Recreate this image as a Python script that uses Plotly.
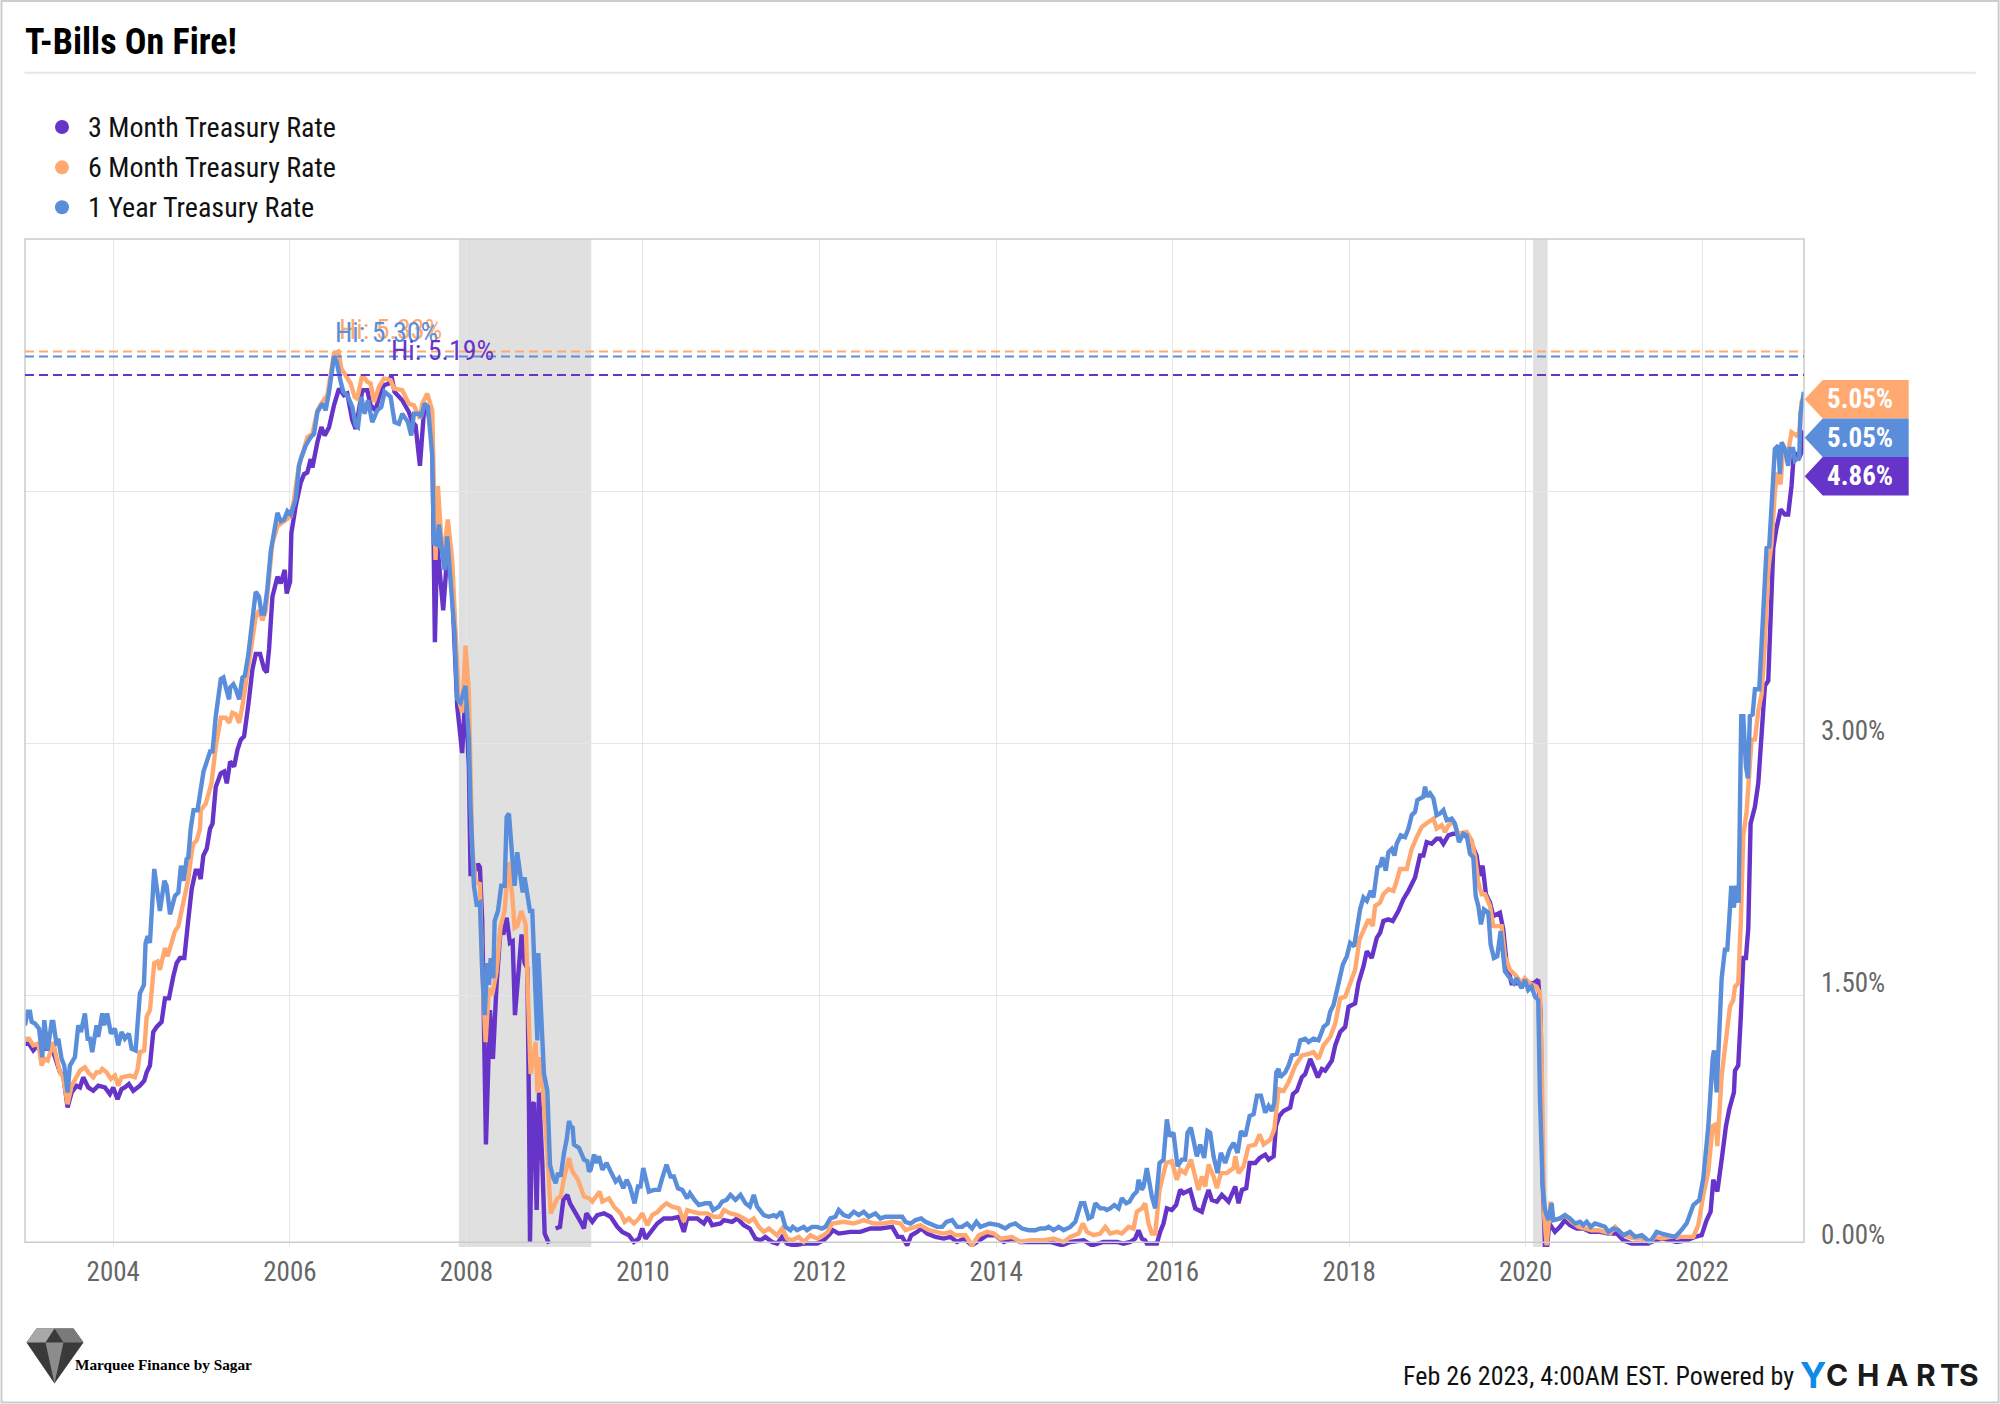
import pandas as pd
import plotly.graph_objects as go

# ---------- data (decimal years, percent) ----------
SERIES_NAMES = ["3 Month Treasury Rate", "6 Month Treasury Rate", "1 Year Treasury Rate"]
SERIES_COLORS = ["#6634C8", "#FFA970", "#5A8EDB"]
HIGHS = [5.19, 5.33, 5.30]
HIGH_LABELS = ["Hi: 5.19%", "Hi: 5.33%", "Hi: 5.30%"]
LAST_LABELS = ["4.86%", "5.05%", "5.05%"]
Y_TICKS = [0, 1.5, 3, 4.5]
Y_TICK_LABELS = ["0.00%", "1.50%", "3.00%", ""]
RECESSIONS = [("2007-12-01", "2009-06-01"), ("2020-02-01", "2020-04-01")]

T1Y_YEARS = [2003.000,2003.030,2003.057,2003.075,2003.113,2003.159,2003.196,2003.219,2003.257,2003.302,2003.321,2003.359,2003.377,2003.415,2003.445,2003.483,2003.509,2003.566,2003.604,2003.634,2003.679,2003.710,2003.736,2003.762,2003.811,2003.830,2003.876,2003.898,2003.932,2003.974,2004.019,2004.057,2004.094,2004.132,2004.177,2004.208,2004.253,2004.302,2004.347,2004.366,2004.389,2004.415,2004.464,2004.528,2004.578,2004.604,2004.642,2004.679,2004.698,2004.736,2004.766,2004.796,2004.830,2004.849,2004.876,
2004.908,2004.953,2005.021,2005.059,2005.096,2005.123,2005.160,2005.217,2005.247,2005.274,2005.311,2005.323,2005.360,2005.387,2005.425,2005.462,2005.489,2005.527,2005.576,2005.613,2005.651,2005.678,2005.708,2005.745,2005.783,2005.821,2005.859,2005.896,2005.934,2005.972,2006.010,2006.066,2006.104,2006.130,2006.179,2006.236,2006.274,2006.312,2006.368,2006.406,2006.444,2006.500,2006.530,2006.576,2006.606,2006.651,2006.708,2006.746,2006.772,2006.810,2006.847,2006.885,2006.934,2006.991,2007.036,2007.074,2007.142,2007.187,2007.236,2007.274,2007.338,2007.376,2007.406,2007.463,2007.489,2007.527,2007.565,2007.614,2007.632,2007.670,2007.689,2007.727,2007.753,2007.783,2007.829,2007.866,2007.897,2007.934,2007.991,2008.029,
2008.048,2008.067,2008.086,2008.116,2008.154,2008.180,2008.207,2008.237,2008.256,2008.275,2008.305,2008.320,2008.358,2008.395,2008.433,2008.456,2008.482,2008.520,2008.546,2008.576,2008.607,2008.637,2008.659,2008.690,2008.720,2008.746,2008.784,2008.803,2008.814,2008.860,2008.878,2008.916,2008.946,2008.984,2009.010,2009.037,2009.067,2009.105,2009.135,2009.161,2009.180,2009.203,2009.218,2009.275,2009.331,2009.369,2009.388,
2009.407,2009.445,2009.475,2009.501,2009.539,2009.588,2009.633,2009.690,2009.728,2009.777,2009.815,2009.852,2009.905,2009.943,2009.973,2010.003,2010.030,2010.067,2010.124,2010.181,2010.218,2010.267,2010.313,2010.350,2010.396,2010.445,2010.501,2010.532,2010.584,2010.634,2010.709,2010.758,2010.796,2010.860,2010.898,2010.947,2010.992,2011.049,2011.105,2011.162,2011.211,2011.256,2011.294,2011.369,2011.426,2011.483,2011.513,2011.566,2011.615,2011.671,2011.698,2011.747,2011.822,2011.860,2011.917,2011.973,2012.030,2012.068,2012.124,2012.181,2012.219,2012.275,2012.332,2012.389,2012.445,2012.502,2012.558,2012.634,2012.690,2012.747,2012.823,2012.936,2012.973,2013.030,2013.087,2013.151,2013.200,2013.257,2013.332,2013.389,2013.438,2013.502,2013.558,2013.615,2013.671,2013.728,2013.777,2013.823,2013.879,2013.928,2014.030,2014.106,2014.155,2014.219,2014.294,2014.370,2014.445,2014.502,2014.559,2014.596,2014.653,2014.709,2014.766,2014.841,2014.898,2014.962,2015.000,2015.049,2015.087,2015.125,2015.181,
2015.226,2015.256,2015.294,2015.340,2015.389,2015.426,2015.475,2015.513,2015.558,2015.596,2015.615,2015.653,2015.672,2015.709,2015.740,2015.766,2015.804,2015.853,2015.898,2015.936,2015.966,2016.011,2016.057,2016.106,2016.143,2016.170,2016.208,2016.238,2016.275,2016.313,2016.358,2016.396,2016.426,2016.464,2016.509,2016.547,2016.596,2016.645,2016.691,2016.736,2016.774,2016.823,2016.872,2016.917,2016.955,2017.000,2017.049,2017.087,2017.125,2017.151,2017.174,2017.200,2017.219,2017.276,2017.313,2017.351,2017.408,2017.445,2017.502,2017.540,2017.596,2017.653,2017.710,2017.755,2017.785,2017.823,2017.860,2017.898,
2017.928,2017.973,2018.011,2018.056,2018.087,2018.124,2018.162,2018.200,2018.245,2018.275,2018.321,2018.351,2018.377,2018.415,2018.445,2018.483,2018.513,2018.539,2018.585,2018.634,2018.672,2018.709,2018.747,2018.773,2018.841,2018.860,2018.887,2018.917,2018.955,2018.992,2019.030,2019.068,2019.106,2019.162,2019.200,2019.245,2019.294,2019.332,2019.370,2019.407,2019.434,2019.464,2019.494,2019.528,2019.577,2019.604,2019.641,2019.679,2019.717,2019.766,2019.823,2019.868,2019.898,2019.955,2019.992,2020.030,2020.068,2020.106,2020.143,
2020.162,2020.193,2020.219,2020.257,2020.295,2020.313,2020.389,2020.445,2020.502,2020.559,2020.615,2020.653,2020.691,2020.736,2020.785,2020.842,2020.898,2020.936,2020.993,2021.049,2021.106,2021.181,2021.238,2021.314,2021.408,2021.446,2021.483,2021.540,2021.615,2021.691,2021.748,2021.823,
2021.899,2021.967,2022.012,2022.069,2022.118,2022.133,2022.163,2022.182,2022.220,2022.257,2022.284,2022.306,2022.329,2022.359,2022.382,2022.412,2022.442,2022.465,2022.495,2022.518,2022.540,2022.571,2022.597,2022.646,2022.691,2022.729,2022.759,2022.797,2022.823,2022.861,2022.880,2022.899,2022.937,2022.974,2022.993,2023.031,2023.050,2023.099,2023.114,2023.152]
T1Y_RATE = [1.32,1.40,1.40,1.34,1.33,1.30,1.13,1.35,1.17,1.34,1.34,1.20,1.24,1.12,1.08,0.92,1.08,1.13,1.32,1.28,1.39,1.24,1.24,1.16,1.32,1.25,1.39,1.32,1.39,1.27,1.30,1.20,1.28,1.24,1.27,1.18,1.17,1.51,1.56,1.81,1.85,1.81,2.25,2.00,2.18,2.15,1.98,2.04,2.09,2.11,2.27,2.18,2.31,2.32,2.49,
2.60,2.60,2.83,2.89,2.95,2.95,3.16,3.38,3.39,3.33,3.26,3.33,3.35,3.32,3.26,3.39,3.40,3.52,3.77,3.90,3.87,3.77,3.77,3.92,4.14,4.27,4.37,4.32,4.33,4.38,4.36,4.45,4.65,4.70,4.77,4.82,4.84,4.97,5.02,4.98,5.09,5.30,5.27,5.15,5.09,5.07,5.00,4.89,4.88,5.06,4.96,5.04,4.91,4.98,5.00,5.09,5.06,4.91,4.90,4.96,4.91,4.83,4.96,4.96,4.94,5.02,5.00,4.71,4.19,4.18,4.30,4.13,4.03,4.23,3.95,3.66,3.26,3.24,3.34,3.02,
2.62,2.37,2.15,2.04,2.05,1.64,1.38,1.69,1.56,1.72,1.60,1.94,2.00,2.15,2.15,2.56,2.58,2.32,2.15,2.35,2.22,2.11,2.20,2.10,2.00,2.00,1.35,1.23,1.75,1.18,1.03,0.93,0.49,0.41,0.38,0.44,0.42,0.56,0.64,0.75,0.72,0.71,0.61,0.59,0.52,0.51,0.45,
0.46,0.55,0.50,0.54,0.46,0.50,0.45,0.39,0.41,0.35,0.40,0.36,0.26,0.36,0.36,0.47,0.41,0.33,0.34,0.34,0.41,0.49,0.42,0.42,0.35,0.34,0.29,0.32,0.28,0.25,0.26,0.26,0.22,0.24,0.27,0.28,0.31,0.28,0.31,0.26,0.24,0.31,0.24,0.19,0.18,0.19,0.18,0.21,0.12,0.10,0.12,0.10,0.12,0.10,0.12,0.12,0.11,0.12,0.17,0.18,0.22,0.19,0.18,0.21,0.19,0.21,0.18,0.20,0.17,0.18,0.18,0.18,0.15,0.14,0.16,0.17,0.15,0.14,0.12,0.12,0.15,0.16,0.12,0.12,0.14,0.11,0.15,0.12,0.13,0.14,0.13,0.11,0.13,0.14,0.11,0.10,0.10,0.11,0.11,0.12,0.10,0.12,0.10,0.12,0.15,0.26,0.26,0.17,0.18,0.26,0.23,
0.23,0.22,0.23,0.25,0.23,0.29,0.26,0.27,0.31,0.33,0.40,0.34,0.36,0.47,0.36,0.30,0.23,0.50,0.52,0.76,0.66,0.68,0.48,0.52,0.52,0.68,0.71,0.62,0.54,0.61,0.53,0.69,0.68,0.54,0.44,0.56,0.50,0.58,0.62,0.56,0.69,0.66,0.78,0.79,0.90,0.90,0.80,0.84,0.81,0.86,1.04,1.06,1.01,1.04,1.08,1.14,1.15,1.23,1.24,1.22,1.24,1.23,1.31,1.33,1.40,1.44,1.53,1.61,
1.68,1.73,1.81,1.79,1.91,2.01,2.08,2.06,2.12,2.08,2.26,2.27,2.32,2.24,2.35,2.37,2.33,2.40,2.45,2.44,2.49,2.57,2.59,2.66,2.68,2.74,2.68,2.70,2.67,2.57,2.58,2.60,2.54,2.55,2.52,2.41,2.46,2.45,2.34,2.32,2.09,2.03,1.92,2.01,1.99,1.80,1.72,1.73,1.88,1.64,1.60,1.57,1.60,1.54,1.59,1.53,1.55,1.49,1.47,
0.90,0.36,0.22,0.16,0.26,0.16,0.17,0.19,0.17,0.14,0.15,0.13,0.15,0.12,0.14,0.13,0.12,0.09,0.11,0.10,0.07,0.09,0.06,0.07,0.03,0.06,0.09,0.08,0.07,0.06,0.09,0.14,
0.25,0.28,0.41,0.72,1.12,1.17,0.92,1.15,1.60,1.77,1.77,1.95,2.15,2.02,2.15,2.05,3.16,3.16,2.86,2.79,3.16,3.17,3.32,3.32,3.83,4.16,4.17,4.53,4.75,4.77,4.60,4.79,4.75,4.65,4.75,4.75,4.68,4.70,4.96,5.09]

T6M_YEARS = [2003.000,2003.045,2003.094,2003.151,2003.189,2003.219,2003.257,2003.321,2003.359,2003.396,2003.434,2003.483,2003.528,2003.585,2003.623,2003.679,2003.717,2003.774,2003.811,2003.849,2003.876,2003.925,2003.974,2004.019,2004.057,2004.094,2004.151,2004.189,2004.245,2004.276,2004.302,2004.351,2004.378,2004.415,2004.464,2004.502,2004.528,2004.585,2004.615,2004.653,2004.698,2004.736,2004.774,2004.811,2004.849,2004.887,2004.906,2004.944,2004.981,
2004.991,2005.047,2005.111,2005.160,2005.217,2005.274,2005.311,2005.349,2005.387,2005.425,2005.462,2005.511,2005.557,2005.613,2005.651,2005.689,2005.727,2005.764,2005.802,2005.859,2005.915,2006.010,2006.047,2006.104,2006.161,2006.198,2006.255,2006.312,2006.368,2006.425,2006.500,2006.549,2006.583,2006.632,2006.689,2006.734,2006.764,2006.821,2006.878,2006.915,2006.953,2007.010,2007.066,2007.142,2007.180,2007.274,2007.349,2007.406,2007.474,2007.500,2007.557,2007.614,2007.632,2007.651,2007.678,2007.727,2007.753,2007.791,2007.840,2007.878,2007.915,2007.953,2007.991,2008.029,
2008.067,2008.105,2008.154,2008.180,2008.218,2008.256,2008.293,2008.342,2008.388,2008.433,2008.475,2008.520,2008.546,2008.576,2008.622,2008.671,2008.697,2008.727,2008.784,2008.803,2008.841,2008.878,2008.916,2008.954,2008.992,2009.029,2009.067,2009.105,2009.161,2009.199,2009.226,2009.263,2009.331,2009.388,2009.426,2009.482,2009.509,2009.539,2009.614,2009.671,2009.746,2009.792,2009.841,2009.897,2009.954,2009.992,2010.048,2010.105,2010.169,2010.218,2010.267,2010.331,2010.407,2010.463,2010.501,2010.558,2010.633,2010.728,2010.803,2010.879,
2010.917,2010.992,2011.068,2011.143,2011.200,2011.256,2011.313,2011.369,2011.426,2011.520,2011.577,2011.634,2011.690,2011.766,2011.822,2011.898,2011.973,2012.049,2012.094,2012.143,2012.275,2012.389,2012.502,2012.615,2012.728,2012.823,2012.917,2012.973,2013.030,2013.143,2013.238,2013.313,2013.408,2013.483,2013.540,2013.653,2013.728,2013.804,2013.898,2013.974,2014.049,2014.181,2014.275,2014.389,2014.540,2014.653,2014.766,2014.841,2014.936,2014.985,2015.030,2015.106,2015.181,
2015.238,2015.294,2015.370,2015.426,2015.502,2015.558,2015.596,2015.653,2015.690,2015.728,2015.766,2015.804,2015.853,2015.898,2015.928,2015.992,2016.049,2016.087,2016.143,2016.208,2016.257,2016.294,2016.332,2016.370,2016.408,2016.464,2016.502,2016.547,2016.615,2016.691,2016.710,2016.747,2016.804,2016.860,2016.936,2016.985,2017.030,2017.106,2017.151,2017.181,2017.200,2017.257,2017.313,2017.389,2017.464,2017.540,2017.596,2017.653,2017.710,2017.785,2017.842,2017.898,2017.955,2018.012,2018.068,
2018.117,2018.170,2018.219,2018.268,2018.294,2018.351,2018.388,2018.445,2018.502,2018.539,2018.577,2018.653,2018.709,2018.766,2018.823,2018.898,2018.955,2018.992,2019.049,2019.087,2019.124,2019.181,2019.238,2019.332,2019.389,2019.426,2019.464,2019.502,2019.540,2019.596,2019.634,2019.691,2019.728,2019.766,2019.823,2019.898,2019.955,2019.992,2020.049,2020.124,2020.162,
2020.185,2020.193,2020.208,2020.238,2020.257,2020.283,2020.313,2020.389,2020.445,2020.521,2020.596,2020.672,2020.747,2020.823,2020.898,2020.955,2021.012,2021.087,2021.163,2021.238,2021.314,2021.408,2021.464,2021.540,2021.634,2021.748,2021.861,
2021.899,2021.955,2022.012,2022.069,2022.118,2022.155,2022.171,2022.220,2022.269,2022.314,2022.352,2022.371,2022.408,2022.438,2022.465,2022.503,2022.533,2022.559,2022.597,2022.635,2022.673,2022.710,2022.748,2022.786,2022.823,2022.850,2022.888,2022.918,2022.974,2023.012,2023.069,2023.099,2023.125,2023.148]
T6M_RATE = [1.24,1.24,1.20,1.21,1.08,1.12,1.11,1.22,1.12,1.04,1.01,0.85,0.96,1.02,1.05,1.07,1.04,1.01,1.04,1.04,1.06,1.04,1.00,1.02,0.96,1.01,1.02,1.02,1.01,1.06,1.16,1.17,1.37,1.41,1.69,1.70,1.65,1.78,1.73,1.79,1.88,1.91,2.01,2.09,2.19,2.35,2.40,2.42,2.49,
2.60,2.64,2.76,2.98,3.15,3.15,3.12,3.18,3.17,3.12,3.22,3.38,3.56,3.75,3.79,3.73,3.79,3.99,4.19,4.29,4.31,4.35,4.45,4.66,4.75,4.82,4.84,4.98,5.03,5.07,5.32,5.33,5.23,5.19,5.14,5.06,5.05,5.19,5.15,5.14,5.03,5.12,5.17,5.16,5.11,5.10,5.02,5.01,4.93,5.02,5.08,4.98,4.61,4.09,4.53,4.13,4.17,4.33,4.09,3.66,3.26,3.18,3.58,3.30,
2.37,2.17,2.16,1.64,1.22,1.54,1.50,1.64,1.91,2.00,2.29,2.09,1.90,1.91,2.00,1.92,1.56,1.03,1.22,0.92,1.13,0.86,0.56,0.20,0.24,0.29,0.30,0.41,0.53,0.45,0.43,0.40,0.30,0.29,0.27,0.31,0.33,0.27,0.29,0.24,0.20,0.15,0.17,0.14,0.17,0.20,0.13,0.19,0.21,0.24,0.26,0.24,0.23,0.15,0.22,0.21,0.20,0.20,0.18,0.18,
0.22,0.20,0.19,0.17,0.15,0.17,0.12,0.09,0.11,0.07,0.11,0.05,0.04,0.06,0.03,0.07,0.05,0.07,0.09,0.14,0.15,0.14,0.16,0.14,0.14,0.15,0.14,0.10,0.11,0.13,0.10,0.09,0.08,0.09,0.07,0.07,0.01,0.07,0.09,0.08,0.05,0.06,0.03,0.04,0.04,0.05,0.03,0.06,0.08,0.14,0.09,0.07,0.08,
0.12,0.08,0.09,0.08,0.12,0.11,0.21,0.23,0.26,0.14,0.08,0.08,0.34,0.44,0.50,0.51,0.40,0.46,0.44,0.52,0.42,0.34,0.42,0.36,0.49,0.42,0.35,0.44,0.44,0.47,0.54,0.44,0.48,0.60,0.61,0.67,0.61,0.64,0.70,0.82,0.94,0.93,0.98,1.08,1.14,1.15,1.16,1.12,1.20,1.25,1.33,1.48,1.49,1.57,1.65,
1.83,1.89,1.95,1.91,2.03,2.05,2.10,2.13,2.12,2.18,2.25,2.25,2.37,2.44,2.50,2.53,2.55,2.49,2.51,2.47,2.51,2.53,2.46,2.47,2.42,2.33,2.17,2.10,2.10,2.03,1.91,1.91,1.91,1.73,1.65,1.61,1.57,1.60,1.57,1.55,1.51,
1.00,0.60,0.20,0.01,0.14,0.27,0.16,0.17,0.19,0.15,0.12,0.11,0.10,0.10,0.09,0.08,0.12,0.08,0.06,0.05,0.05,0.03,0.06,0.05,0.06,0.06,0.06,
0.06,0.13,0.31,0.45,0.72,0.73,0.60,1.02,1.22,1.43,1.47,1.55,1.57,1.95,2.45,2.59,2.82,3.02,3.02,3.19,3.29,3.59,4.03,4.19,4.49,4.61,4.54,4.76,4.73,4.85,4.83,4.85,5.03,5.05]

T3M_YEARS = [2003.000,2003.045,2003.094,2003.143,2003.189,2003.226,2003.283,2003.321,2003.359,2003.396,2003.434,2003.483,2003.528,2003.585,2003.623,2003.660,2003.717,2003.774,2003.830,2003.906,2003.962,2004.000,2004.049,2004.094,2004.132,2004.177,2004.227,2004.302,2004.351,2004.378,2004.415,2004.453,2004.491,2004.547,2004.585,2004.630,2004.679,2004.717,2004.755,2004.804,2004.849,2004.887,2004.932,2004.962,2004.989,2005.019,2005.057,2005.095,
2005.123,2005.160,2005.217,2005.255,2005.285,2005.323,2005.368,2005.406,2005.444,2005.481,2005.527,2005.576,2005.613,2005.662,2005.708,2005.738,2005.764,2005.802,2005.859,2005.896,2005.942,2005.964,2006.002,2006.017,2006.066,2006.123,2006.161,2006.198,2006.236,2006.255,2006.312,2006.357,2006.395,2006.444,2006.500,2006.557,2006.613,2006.651,2006.708,2006.746,2006.821,2006.878,2006.915,2006.972,2007.010,2007.066,2007.123,2007.149,2007.187,2007.274,2007.349,2007.387,2007.425,2007.474,2007.519,2007.557,2007.614,2007.632,2007.644,2007.670,2007.738,2007.791,2007.840,2007.897,2007.953,2007.991,2008.029,
2008.048,2008.086,2008.131,2008.154,2008.180,2008.199,2008.222,2008.267,2008.301,2008.342,2008.388,2008.418,2008.456,2008.493,2008.524,2008.550,2008.584,2008.625,2008.659,2008.690,2008.709,2008.720,2008.746,2008.765,2008.795,2008.822,2008.860,2008.886,2008.935,None,
2009.010,2009.059,2009.097,2009.143,2009.173,2009.218,2009.256,2009.293,2009.331,2009.358,2009.426,2009.482,2009.558,2009.633,2009.709,2009.765,2009.841,2009.897,2009.954,2009.992,2010.030,2010.105,2010.162,2010.237,2010.331,2010.407,2010.463,2010.501,2010.615,2010.690,2010.735,2010.784,2010.879,
2010.917,2011.011,2011.068,2011.143,2011.211,2011.275,2011.332,2011.388,2011.464,2011.520,2011.577,2011.634,2011.709,2011.822,2011.973,2012.049,2012.105,2012.154,2012.219,2012.351,2012.464,2012.577,2012.690,2012.823,2012.887,2012.936,2012.992,2013.038,2013.105,2013.151,2013.219,2013.313,2013.408,2013.483,2013.558,2013.634,2013.728,2013.804,2013.898,2013.992,2014.087,2014.181,2014.275,2014.427,2014.615,2014.747,2014.841,2014.993,2015.087,2015.219,
2015.294,2015.370,2015.445,2015.521,2015.577,2015.615,2015.653,2015.690,2015.709,2015.823,2015.860,2015.898,2015.936,2015.992,2016.041,2016.087,2016.124,2016.200,2016.257,2016.332,2016.370,2016.408,2016.445,2016.502,2016.558,2016.634,2016.709,2016.747,2016.785,2016.834,2016.872,2016.936,2016.985,2017.049,2017.087,2017.144,2017.170,2017.208,2017.257,2017.332,2017.362,2017.408,2017.464,2017.502,2017.559,2017.604,2017.645,2017.691,2017.728,2017.804,2017.842,2017.898,2017.955,2017.993,2018.068,2018.105,2018.162,2018.200,
2018.256,2018.313,2018.351,2018.388,2018.445,2018.494,2018.558,2018.615,2018.672,2018.747,2018.804,2018.841,2018.879,2018.936,2018.992,2019.030,2019.068,2019.124,2019.181,2019.294,2019.370,2019.445,2019.475,2019.513,2019.551,2019.596,2019.634,2019.709,2019.747,2019.785,2019.841,2019.936,2020.011,2020.087,2020.143,
2020.170,2020.193,2020.219,2020.245,2020.268,2020.332,2020.389,2020.445,2020.502,2020.578,2020.653,2020.729,2020.842,2020.936,2021.030,2021.106,2021.200,2021.314,2021.389,2021.464,2021.559,2021.710,2021.823,2021.917,2021.993,
2022.050,2022.095,2022.125,2022.171,2022.220,2022.269,2022.306,2022.359,2022.371,2022.408,2022.438,2022.465,2022.495,2022.522,2022.548,2022.597,2022.635,2022.673,2022.710,2022.748,2022.778,2022.805,2022.842,2022.888,2022.937,2022.974,2023.012,2023.039,2023.099,2023.125,2023.148]
T3M_RATE = [1.21,1.21,1.17,1.20,1.19,1.18,1.18,1.16,1.10,1.04,1.02,0.83,0.92,0.96,0.95,1.01,0.95,0.93,0.96,0.95,0.91,0.95,0.88,0.94,0.95,0.97,0.93,0.96,0.99,1.04,1.08,1.28,1.31,1.34,1.48,1.48,1.61,1.69,1.72,1.72,1.95,2.13,2.24,2.24,2.19,2.33,2.37,2.49,
2.52,2.74,2.82,2.83,2.76,2.89,2.86,2.96,3.02,3.04,3.22,3.44,3.53,3.53,3.44,3.42,3.56,3.87,3.99,3.95,4.03,3.89,3.96,4.25,4.41,4.55,4.60,4.61,4.69,4.64,4.79,4.88,4.83,4.88,5.01,5.11,5.07,5.08,4.92,4.87,5.10,5.10,5.01,4.98,5.06,5.13,5.14,5.19,5.09,5.04,4.97,4.91,4.89,4.65,4.97,5.00,4.83,4.07,3.60,4.19,3.79,4.17,3.91,3.22,2.94,3.30,2.86,
2.22,2.22,2.28,2.26,1.94,1.45,0.61,1.41,1.12,1.56,1.90,1.86,1.96,1.81,1.82,1.38,1.64,1.86,1.69,1.66,0.81,0.03,0.85,0.86,0.22,0.92,0.49,0.08,0.02,None,
0.11,0.12,0.28,0.31,0.26,0.22,0.19,0.15,0.11,0.20,0.15,0.19,0.20,0.18,0.12,0.09,0.07,0.03,0.05,0.11,0.05,0.10,0.14,0.17,0.17,0.18,0.09,0.17,0.17,0.14,0.18,0.13,0.14,
0.16,0.15,0.17,0.13,0.11,0.05,0.04,0.06,0.03,0.02,0.06,0.02,0.01,0.02,0.02,0.04,0.07,0.10,0.08,0.09,0.09,0.11,0.11,0.12,0.06,0.06,0.01,0.07,0.09,0.11,0.08,0.06,0.05,0.06,0.03,0.05,0.01,0.04,0.07,0.07,0.03,0.05,0.03,0.03,0.03,0.01,0.03,0.04,0.01,0.03,
0.03,0.03,0.02,0.03,0.05,0.10,0.05,0.04,0.02,0.02,0.09,0.14,0.23,0.22,0.25,0.34,0.32,0.34,0.23,0.21,0.28,0.34,0.28,0.27,0.31,0.27,0.36,0.26,0.34,0.35,0.50,0.50,0.53,0.55,0.52,0.54,0.72,0.78,0.81,0.83,0.91,0.93,1.01,1.03,1.12,1.06,1.01,1.06,1.05,1.11,1.20,1.28,1.31,1.43,1.45,1.57,1.67,1.76,
1.72,1.84,1.87,1.94,1.95,1.94,2.00,2.07,2.12,2.20,2.33,2.33,2.41,2.40,2.43,2.43,2.40,2.45,2.46,2.46,2.42,2.33,2.21,2.27,2.10,2.05,1.97,1.99,1.89,1.69,1.57,1.57,1.56,1.57,1.59,
1.39,0.40,0.01,0.01,0.14,0.09,0.12,0.16,0.13,0.11,0.11,0.09,0.09,0.08,0.08,0.04,0.02,0.02,0.02,0.04,0.05,0.03,0.04,0.06,0.07,
0.16,0.21,0.40,0.33,0.52,0.72,0.82,0.92,1.05,1.08,1.38,1.72,1.72,1.90,2.52,2.62,2.76,3.02,3.34,3.37,3.89,4.16,4.28,4.39,4.36,4.36,4.53,4.73,4.70,4.73,4.86]

SERIES_YEARS = [T3M_YEARS, T6M_YEARS, T1Y_YEARS]
SERIES_RATES = [T3M_RATE, T6M_RATE, T1Y_RATE]

# ---------- page geometry ----------
W, H = 2000, 1404
L, R, T, B = 24.5, 1804.3, 239.0, 1247.4
FONT = "Roboto Condensed, Roboto, sans-serif"
LOGO_FONT = "Inter, Lato, sans-serif"

def px(x):
    return (x - L) / (R - L)

def py(y):
    return (B - y) / (B - T)

def to_date(y):
    if y is None:
        return None
    yr = int(y)
    start = pd.Timestamp(yr, 1, 1)
    days = (pd.Timestamp(yr + 1, 1, 1) - start).days
    return start + pd.Timedelta(days=(y - yr) * days)

def poly(points):
    return "M " + " L ".join(f"{px(a):.5f},{py(b):.5f}" for a, b in points) + " Z"

fig = go.Figure()
for name, color, years, rates in zip(SERIES_NAMES, SERIES_COLORS, SERIES_YEARS, SERIES_RATES):
    fig.add_trace(go.Scatter(x=[to_date(v) for v in years], y=rates, name=name, mode="lines",
                             line=dict(color=color, width=4.4), connectgaps=False, hoverinfo="skip"))

shapes, notes = [], []

def note(x, y, text, size, color, anchor="left", family=FONT):
    notes.append(dict(x=px(x), y=py(y), xref="paper", yref="paper", text=text, showarrow=False,
                      xanchor=anchor, yanchor="middle", font=dict(size=size, color=color, family=family)))

# recession bands
for a, b in RECESSIONS:
    shapes.append(dict(type="rect", xref="x", yref="paper", x0=a, x1=b, y0=0, y1=1,
                       fillcolor="#E0E0E0", line_width=0, layer="below"))
# plot frame
shapes.append(dict(type="rect", xref="paper", yref="paper", x0=0, x1=1, y0=py(1242.7), y1=1,
                   line=dict(color="#CCCCCC", width=1.5), fillcolor="rgba(0,0,0,0)"))
# high-water lines
for hi, color in zip(HIGHS, SERIES_COLORS):
    shapes.append(dict(type="line", xref="paper", yref="y", x0=0, x1=1, y0=hi, y1=hi,
                       line=dict(color=color, width=2, dash="9px,5px")))
# page frame and title rule
shapes.append(dict(type="rect", xref="paper", yref="paper", x0=px(1), x1=px(W - 1), y0=py(1), y1=py(H - 1),
                   line=dict(color="#CCCCCC", width=2), fillcolor="rgba(0,0,0,0)"))
shapes.append(dict(type="line", xref="paper", yref="paper", x0=px(24), x1=px(1976), y0=py(72.7), y1=py(72.7),
                   line=dict(color="#E6E6E6", width=2)))
# legend
for (name, color, y) in zip(SERIES_NAMES, SERIES_COLORS, [127, 167.3, 207.3]):
    shapes.append(dict(type="circle", xref="paper", yref="paper", x0=px(54.5), x1=px(68.5), y0=py(y + 7), y1=py(y - 7),
                       fillcolor=color, line_width=0))
    note(86, y, name, 28, "#111111")
# end tags, top to bottom: 6 month, 1 year, 3 month
for idx, top in zip([1, 2, 0], [380, 418.5, 457]):
    bot = top + 38.5
    shapes.append(dict(type="path", xref="paper", yref="paper",
                       path=poly([(1805, (top + bot) / 2), (1823, top), (1909, top), (1909, bot), (1823, bot)]),
                       fillcolor=SERIES_COLORS[idx], line_width=0))
    note(1860, (top + bot) / 2, f"<b>{LAST_LABELS[idx]}</b>", 27, "#FFFFFF", "center")
# high labels
note(337, 330, HIGH_LABELS[1], 28, SERIES_COLORS[1])
note(333, 333, HIGH_LABELS[2], 28, SERIES_COLORS[2])
note(388.5, 351, HIGH_LABELS[0], 28, SERIES_COLORS[0])
# title and footer
note(22, 42, "<b>T-Bills On Fire!</b>", 36, "#000000")
note(1796, 1376, "Feb 26 2023, 4:00AM EST. Powered by", 26, "#111111", "right")
note(1798, 1375, "<b>Y</b>", 36, "#0D8BE8", family=LOGO_FONT)
for letter, x in zip("CHARTS", [1824, 1855, 1884, 1914, 1938, 1957]):
    note(x, 1375, f"<b>{letter}</b>", 30, "#1A1A1A", family=LOGO_FONT)
# logo mark
logo = [((26, 1343), (36, 1329), (73, 1329), (83, 1343), (54, 1384), "#3A3A3A"),
        ((36, 1329), (54, 1329), (45, 1343), (26, 1343), (36, 1329), "#A8A8A8"),
        ((54, 1329), (73, 1329), (83, 1343), (63, 1343), (54, 1329), "#7A7A7A"),
        ((45, 1343), (63, 1343), (54, 1384), (54, 1384), (45, 1343), "#8C8C8C")]
for a, b, c, d, e, fill in logo:
    shapes.append(dict(type="path", xref="paper", yref="paper", path=poly([a, b, c, d, e]),
                       fillcolor=fill, line_width=0))
note(73, 1365, "<b>Marquee Finance by Sagar</b>", 15.3, "#000000", family="Liberation Serif, serif")

fig.update_layout(
    width=W, height=H, autosize=False, showlegend=False,
    margin=dict(l=L, r=W - R, t=T, b=H - B, pad=0),
    paper_bgcolor="#FFFFFF", plot_bgcolor="#FFFFFF",
    shapes=shapes, annotations=notes,
    font=dict(family=FONT),
    xaxis=dict(type="date", range=["2003-01-01", "2023-02-26"], tick0="2004-01-01", dtick="M24", tickformat="%Y",
               showgrid=True, gridcolor="#E6E6E6", gridwidth=1.4, zeroline=False, showline=False, ticks="",
               tickfont=dict(size=27, color="#666666"), ticklabelstandoff=6),
    yaxis=dict(range=[0, 6], side="right", tickmode="array", tickvals=Y_TICKS, ticktext=Y_TICK_LABELS,
               showgrid=True, gridcolor="#E6E6E6", gridwidth=1.4, zeroline=False, showline=False, ticks="",
               tickfont=dict(size=27, color="#666666"), ticklabelstandoff=16, ticklabelshift=-12),
)
fig.write_html("out.html", config=dict(displayModeBar=False),
               post_script="document.body.style.margin='0';"
                           "var s=document.createElement('style');"
                           "s.textContent='svg text{font-stretch:75%;}';"
                           "document.head.appendChild(s);")
